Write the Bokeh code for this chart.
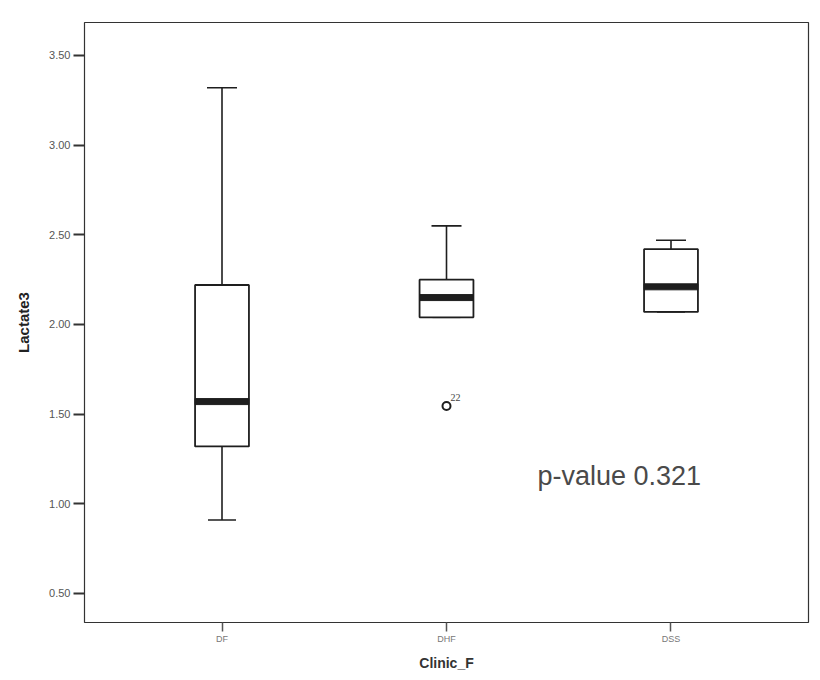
from bokeh.plotting import figure
from bokeh.models import (FactorRange, Range1d, Whisker, TeeHead, ColumnDataSource, Label,
                          FixedTicker, NumeralTickFormatter)
from bokeh.embed import file_html
from bokeh.resources import INLINE

categories = ["DF", "DHF", "DSS"]
lower_whisker = [0.91, 2.04, 2.07]
q1 = [1.32, 2.04, 2.07]
median = [1.57, 2.15, 2.21]
q3 = [2.22, 2.25, 2.42]
upper_whisker = [3.32, 2.55, 2.47]
outlier_cat = ["DHF"]
outlier_val = [1.545]
outlier_label = ["22"]
y_ticks = [0.5, 1.0, 1.5, 2.0, 2.5, 3.0, 3.5]
p_value_text = "p-value 0.321"

src = ColumnDataSource(dict(cat=categories, lo=lower_whisker, q1=q1, med=median,
                            q3=q3, hi=upper_whisker))
osrc = ColumnDataSource(dict(cat=outlier_cat, val=outlier_val, lab=outlier_label))

p = figure(x_range=FactorRange(*categories, range_padding=0.075),
           y_range=Range1d(0.338, 3.684),
           frame_width=724, frame_height=600,
           min_border_left=84, min_border_right=12, min_border_top=22, min_border_bottom=58,
           output_backend="svg", toolbar_location=None,
           background_fill_color="white", border_fill_color="white")

p.outline_line_color = "#333333"
p.outline_line_width = 1.2
p.xgrid.visible = False
p.ygrid.visible = False

ink = "#1e1e1e"
# whiskers
p.add_layout(Whisker(source=src, base="cat", lower="q3", upper="hi",
                     line_color=ink, line_width=1.6,
                     upper_head=TeeHead(size=30, line_color=ink, line_width=1.6),
                     lower_head=None))
p.add_layout(Whisker(source=src, base="cat", lower="lo", upper="q1",
                     line_color=ink, line_width=1.6,
                     lower_head=TeeHead(size=28, line_color=ink, line_width=1.6),
                     upper_head=None))
# boxes
p.vbar(x="cat", width=0.24, bottom="q1", top="q3", source=src,
       fill_color="white", line_color=ink, line_width=1.8)
# medians
p.rect(x="cat", y="med", width=0.24, height=6, height_units="screen", source=src,
       fill_color=ink, line_color=ink)
# outlier
p.scatter(x="cat", y="val", source=osrc, marker="circle", size=8,
          fill_color="white", line_color=ink, line_width=2)
p.text(x="cat", y="val", text="lab", source=osrc, x_offset=4, y_offset=-5,
       text_font_size="10px", text_color="#444444", text_baseline="bottom",
       text_font="Liberation Sans")

p.add_layout(Label(x=1.905, y=1.155, text=p_value_text, text_font_size="27px",
                   text_color="#4a4a4a", text_font="Liberation Sans",
                   text_baseline="alphabetic"))

# axes
p.yaxis.ticker = FixedTicker(ticks=y_ticks)
p.yaxis.formatter = NumeralTickFormatter(format="0.00")
p.yaxis.axis_line_color = None
p.yaxis.major_tick_line_color = "#333333"
p.yaxis.major_tick_line_width = 2
p.yaxis.major_tick_out = 11
p.yaxis.major_tick_in = 0
p.yaxis.minor_tick_line_color = None
p.yaxis.major_label_text_font_size = "11px"
p.yaxis.major_label_text_color = "#555555"
p.yaxis.major_label_text_font = "Liberation Sans"
p.yaxis.major_label_standoff = 3
p.yaxis.axis_label = "Lactate3"
p.yaxis.axis_label_text_font_size = "15px"
p.yaxis.axis_label_text_font_style = "bold"
p.yaxis.axis_label_text_color = "#222222"
p.yaxis.axis_label_text_font = "Liberation Sans"
p.yaxis.axis_label_standoff = 14

p.xaxis.axis_line_color = None
p.xaxis.major_tick_line_color = "#555555"
p.xaxis.major_tick_line_width = 1.5
p.xaxis.major_tick_out = 9
p.xaxis.major_tick_in = 0
p.xaxis.major_label_text_font_size = "9px"
p.xaxis.major_label_text_color = "#777777"
p.xaxis.major_label_text_font = "Liberation Sans"
p.xaxis.major_label_standoff = 2
p.xaxis.axis_label = "Clinic_F"
p.xaxis.axis_label_text_font_size = "14px"
p.xaxis.axis_label_text_font_style = "bold"
p.xaxis.axis_label_text_color = "#333333"
p.xaxis.axis_label_text_font = "Liberation Sans"
p.xaxis.axis_label_standoff = 8

open("out.html", "w").write(file_html(p, INLINE))
